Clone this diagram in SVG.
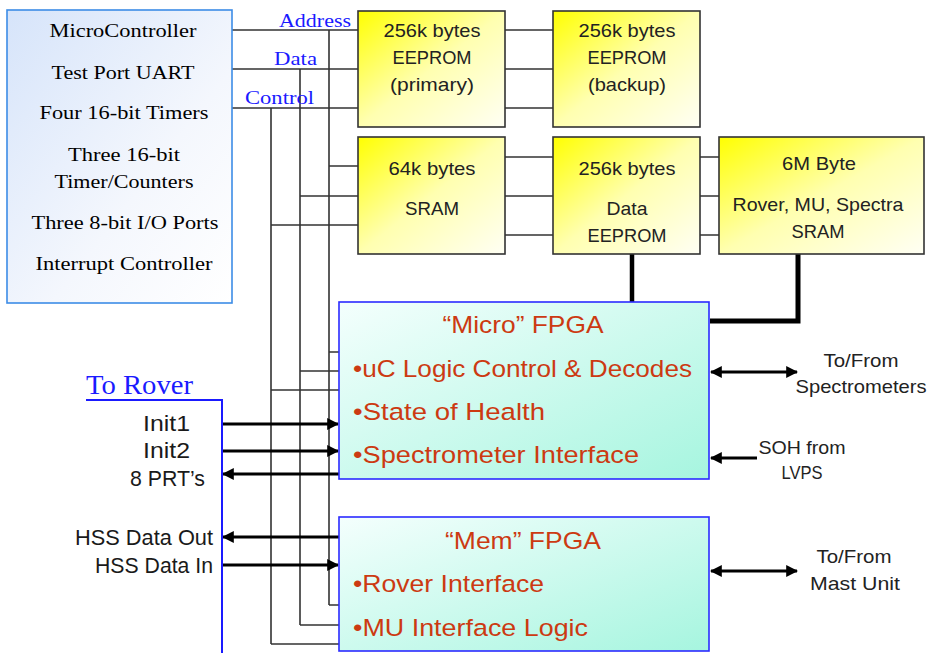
<svg xmlns="http://www.w3.org/2000/svg" width="931" height="653" viewBox="0 0 931 653">
<style>
.ser{font-family:"Liberation Serif","Times New Roman",serif;}
.san{font-family:"Liberation Sans",Arial,sans-serif;}
.mc{font-size:19.5px;fill:#000;text-anchor:middle;}
.bus{font-size:19px;fill:#1a1aff;}
.yb{fill:url(#gy);stroke:#333;stroke-width:1.6;}
.yt{font-size:19px;fill:#222;text-anchor:middle;}
.fb{fill:url(#gc);stroke:#2b2bff;stroke-width:1.6;}
.ft{font-size:24.5px;fill:#cc3a12;}
.lt{font-size:21.5px;fill:#1a1a1a;}
.thin{stroke:#333;stroke-width:1.6;fill:none;}
.arr{stroke:#000;stroke-width:3;fill:none;}
.thick{stroke:#000;stroke-width:5;fill:none;}
</style>
<defs>
<linearGradient id="gy" x1="0" y1="0" x2="1" y2="1">
<stop offset="0" stop-color="#ffff00"/>
<stop offset="0.5" stop-color="#ffffb0"/>
<stop offset="1" stop-color="#fffff4"/>
</linearGradient>
<linearGradient id="gc" x1="0" y1="0" x2="1" y2="1">
<stop offset="0" stop-color="#f4fffd"/>
<stop offset="1" stop-color="#a6f5df"/>
</linearGradient>
<linearGradient id="gb" x1="0" y1="0" x2="1" y2="1">
<stop offset="0" stop-color="#d6e4fa"/>
<stop offset="0.6" stop-color="#f4f7fd"/>
<stop offset="1" stop-color="#ffffff"/>
</linearGradient>
<marker id="ah" viewBox="0 0 10 10" refX="9" refY="5" markerWidth="4" markerHeight="4" orient="auto-start-reverse" markerUnits="strokeWidth">
<path d="M0,0 L10,5 L0,10 z" fill="#000"/>
</marker>
</defs>

<g id="connectors">
<path class="thin" d="M232,30 H358 M232,69 H358 M232,108 H358"/>
<path class="thin" d="M329,30 V605 M300,69 V625 M271,108 V644"/>
<path class="thin" d="M329,166 H358 M300,196 H358 M271,225 H358"/>
<path class="thin" d="M329,352 H339 M300,371 H339 M271,390 H339"/>
<path class="thin" d="M329,605 H339 M300,625 H339 M271,644 H339"/>
<path class="thin" d="M505,30 H553 M505,69 H553 M505,108 H553"/>
<path class="thin" d="M505,157 H553 M505,196 H553 M505,235 H553"/>
<path class="thin" d="M700,157 H719 M700,196 H719 M700,235 H719"/>
<path class="thick" style="stroke-width:4.5" d="M632,254 V302"/>
<path class="thick" d="M798,254 V321 H710"/>
<path class="arr" marker-end="url(#ah)" d="M222,424 H338"/>
<path class="arr" marker-end="url(#ah)" d="M222,451 H338"/>
<path class="arr" marker-end="url(#ah)" d="M339,474 H223"/>
<path class="arr" marker-end="url(#ah)" d="M339,537 H223"/>
<path class="arr" marker-end="url(#ah)" d="M222,565 H338"/>
<path class="arr" marker-start="url(#ah)" marker-end="url(#ah)" d="M711,372 H797"/>
<path class="arr" marker-end="url(#ah)" d="M757,458 H711"/>
<path class="arr" marker-start="url(#ah)" marker-end="url(#ah)" d="M711,571 H797"/>
<path d="M86,400 H222 V653" fill="none" stroke="#1a1aff" stroke-width="2"/>
</g>

<g id="bus-labels" class="ser bus">
<text x="279" y="27" textLength="72" lengthAdjust="spacingAndGlyphs">Address</text>
<text x="274" y="65" textLength="43" lengthAdjust="spacingAndGlyphs">Data</text>
<text x="245" y="104" textLength="69" lengthAdjust="spacingAndGlyphs">Control</text>
</g>

<g id="microcontroller">
<rect x="7" y="10" width="225" height="293" fill="url(#gb)" stroke="#3c8ce6" stroke-width="1.6"/>
<g class="ser mc">
<text x="123" y="37" textLength="147" lengthAdjust="spacingAndGlyphs">MicroController</text>
<text x="123" y="79" textLength="143" lengthAdjust="spacingAndGlyphs">Test Port UART</text>
<text x="124" y="119" textLength="169" lengthAdjust="spacingAndGlyphs">Four 16-bit Timers</text>
<text x="124" y="161" textLength="112" lengthAdjust="spacingAndGlyphs">Three 16-bit</text>
<text x="124" y="188" textLength="139" lengthAdjust="spacingAndGlyphs">Timer/Counters</text>
<text x="125" y="229" textLength="187" lengthAdjust="spacingAndGlyphs">Three 8-bit I/O Ports</text>
<text x="124" y="270" textLength="177" lengthAdjust="spacingAndGlyphs">Interrupt Controller</text>
</g>
</g>

<g id="eeprom-primary">
<rect class="yb" x="358" y="11" width="147" height="116"/>
<g class="san yt">
<text x="432" y="37" textLength="97" lengthAdjust="spacingAndGlyphs">256k bytes</text>
<text x="432" y="64" textLength="79" lengthAdjust="spacingAndGlyphs">EEPROM</text>
<text x="432" y="91" textLength="84" lengthAdjust="spacingAndGlyphs">(primary)</text>
</g>
</g>

<g id="eeprom-backup">
<rect class="yb" x="553" y="11" width="147" height="116"/>
<g class="san yt">
<text x="627" y="37" textLength="97" lengthAdjust="spacingAndGlyphs">256k bytes</text>
<text x="627" y="64" textLength="79" lengthAdjust="spacingAndGlyphs">EEPROM</text>
<text x="627" y="91" textLength="78" lengthAdjust="spacingAndGlyphs">(backup)</text>
</g>
</g>

<g id="sram">
<rect class="yb" x="358" y="137" width="147" height="117"/>
<g class="san yt">
<text x="432" y="175" textLength="87" lengthAdjust="spacingAndGlyphs">64k bytes</text>
<text x="432" y="215" textLength="54" lengthAdjust="spacingAndGlyphs">SRAM</text>
</g>
</g>

<g id="data-eeprom">
<rect class="yb" x="553" y="137" width="147" height="117"/>
<g class="san yt">
<text x="627" y="175" textLength="97" lengthAdjust="spacingAndGlyphs">256k bytes</text>
<text x="627" y="215" textLength="41" lengthAdjust="spacingAndGlyphs">Data</text>
<text x="627" y="242" textLength="79" lengthAdjust="spacingAndGlyphs">EEPROM</text>
</g>
</g>

<g id="sram-6m">
<rect class="yb" x="719" y="137" width="205" height="117"/>
<g class="san yt">
<text x="819" y="170" textLength="74" lengthAdjust="spacingAndGlyphs">6M Byte</text>
<text x="818" y="211" textLength="171" lengthAdjust="spacingAndGlyphs">Rover, MU, Spectra</text>
<text x="818" y="238" textLength="53" lengthAdjust="spacingAndGlyphs">SRAM</text>
</g>
</g>

<g id="micro-fpga">
<rect class="fb" x="339" y="302" width="370" height="177"/>
<g class="san ft">
<text x="523" y="333" text-anchor="middle" textLength="161" lengthAdjust="spacingAndGlyphs">“Micro” FPGA</text>
<text x="353" y="377" textLength="339" lengthAdjust="spacingAndGlyphs">•uC Logic Control &amp; Decodes</text>
<text x="353" y="420" textLength="192" lengthAdjust="spacingAndGlyphs">•State of Health</text>
<text x="353" y="463" textLength="286" lengthAdjust="spacingAndGlyphs">•Spectrometer Interface</text>
</g>
</g>

<g id="mem-fpga">
<rect class="fb" x="339" y="517" width="370" height="134"/>
<g class="san ft">
<text x="523" y="549" text-anchor="middle" textLength="156" lengthAdjust="spacingAndGlyphs">“Mem” FPGA</text>
<text x="353" y="592" textLength="191" lengthAdjust="spacingAndGlyphs">•Rover Interface</text>
<text x="353" y="636" textLength="235" lengthAdjust="spacingAndGlyphs">•MU Interface Logic</text>
</g>
</g>

<g id="to-rover">
<text class="ser" x="86" y="394" font-size="27" fill="#1a1aff" textLength="107" lengthAdjust="spacingAndGlyphs">To Rover</text>
<g class="san lt" text-anchor="end">
<text x="190" y="431" textLength="47" lengthAdjust="spacingAndGlyphs">Init1</text>
<text x="190" y="458" textLength="47" lengthAdjust="spacingAndGlyphs">Init2</text>
<text x="205" y="486" textLength="75" lengthAdjust="spacingAndGlyphs">8 PRT’s</text>
<text x="213" y="545" textLength="138" lengthAdjust="spacingAndGlyphs">HSS Data Out</text>
<text x="213" y="573" textLength="118" lengthAdjust="spacingAndGlyphs">HSS Data In</text>
</g>
</g>

<g id="external-labels" class="san" font-size="19" fill="#222" text-anchor="middle">
<text x="861" y="367" textLength="75" lengthAdjust="spacingAndGlyphs">To/From</text>
<text x="861" y="393" textLength="131" lengthAdjust="spacingAndGlyphs">Spectrometers</text>
<text x="802" y="454" textLength="87" lengthAdjust="spacingAndGlyphs">SOH from</text>
<text x="802" y="479" textLength="41" lengthAdjust="spacingAndGlyphs">LVPS</text>
<text x="854" y="563" textLength="75" lengthAdjust="spacingAndGlyphs">To/From</text>
<text x="855" y="590" textLength="90" lengthAdjust="spacingAndGlyphs">Mast Unit</text>
</g>
</svg>
